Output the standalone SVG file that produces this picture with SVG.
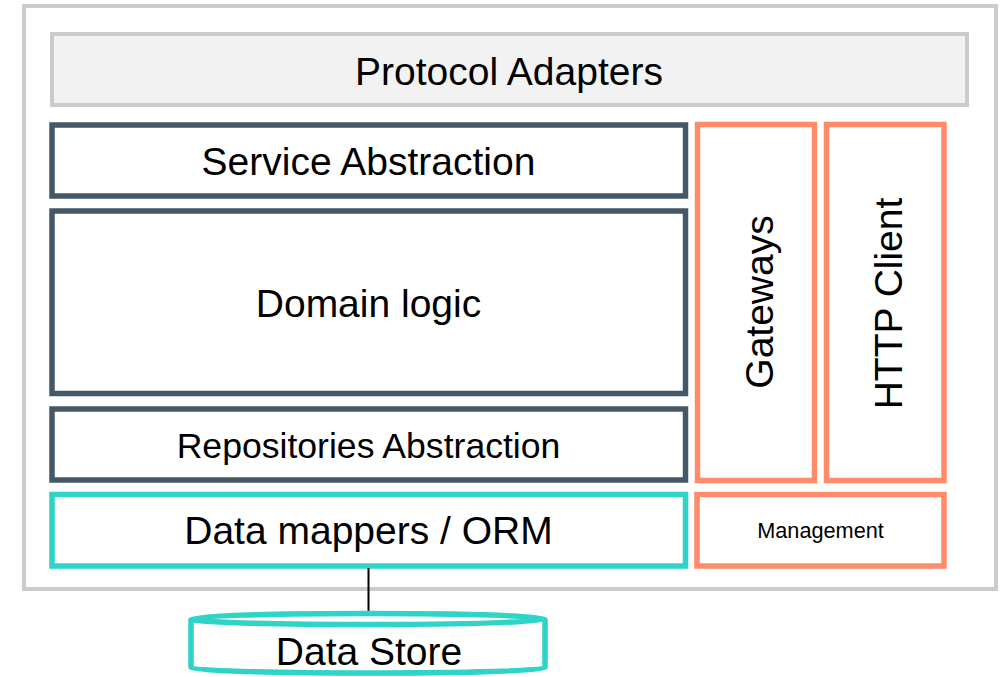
<svg xmlns="http://www.w3.org/2000/svg" width="1004" height="677" viewBox="0 0 1004 677">
<style>
text{font-family:"Liberation Sans",Arial,sans-serif;fill:#000;text-anchor:middle}
.dark{fill:#fff;stroke:#455867;stroke-width:5.5}
.teal{fill:#fff;stroke:#2dd4c7;stroke-width:5.5}
.orange{fill:#fff;stroke:#ff8b6a;stroke-width:5.5}
.big{font-size:39px}
</style>
<rect width="1004" height="677" fill="#fff"/>
<g id="frame"><rect x="24" y="6" width="972" height="583" fill="#fff" stroke="#c9cbcc" stroke-width="4"/></g>
<g id="protocol-adapters"><rect x="52" y="34" width="915" height="71" fill="#f2f2f2" stroke="#c9cbcc" stroke-width="4"/><text class="big" x="509" y="85">Protocol Adapters</text></g>
<g id="service-abstraction"><rect class="dark" x="52" y="125" width="633.5" height="71"/><text class="big" x="368.5" y="175">Service Abstraction</text></g>
<g id="domain-logic"><rect class="dark" x="52" y="211" width="633.5" height="182.5"/><text class="big" x="368.5" y="317">Domain logic</text></g>
<g id="repositories"><rect class="dark" x="52" y="409" width="633.5" height="71"/><text x="368.5" y="458" font-size="35.6">Repositories Abstraction</text></g>
<g id="data-mappers"><rect class="teal" x="52" y="494.5" width="633.5" height="71.5"/><text class="big" x="368.5" y="544">Data mappers / ORM</text></g>
<g id="gateways"><rect class="orange" x="697.5" y="124.5" width="117" height="356"/><text class="big" transform="translate(773,302) rotate(-90)">Gateways</text></g>
<g id="http-client"><rect class="orange" x="826.5" y="124.5" width="117.5" height="356"/><text class="big" transform="translate(902,303.5) rotate(-90)">HTTP Client</text></g>
<g id="management"><rect class="orange" x="697" y="494.5" width="247" height="71.5"/><text x="820.5" y="537.5" font-size="21.7">Management</text></g>
<g id="connectors"><line x1="368.5" y1="568" x2="368.5" y2="613" stroke="#000" stroke-width="2"/></g>
<g id="data-store">
<path d="M191,619 L191,668 A177,5 0 0 0 545,668 L545,619" fill="#fff" stroke="#2dd4c7" stroke-width="5.5"/>
<ellipse cx="368" cy="619" rx="177" ry="5.5" fill="#fff" stroke="#2dd4c7" stroke-width="5.5"/>
<text class="big" x="369" y="665">Data Store</text>
</g>
</svg>
